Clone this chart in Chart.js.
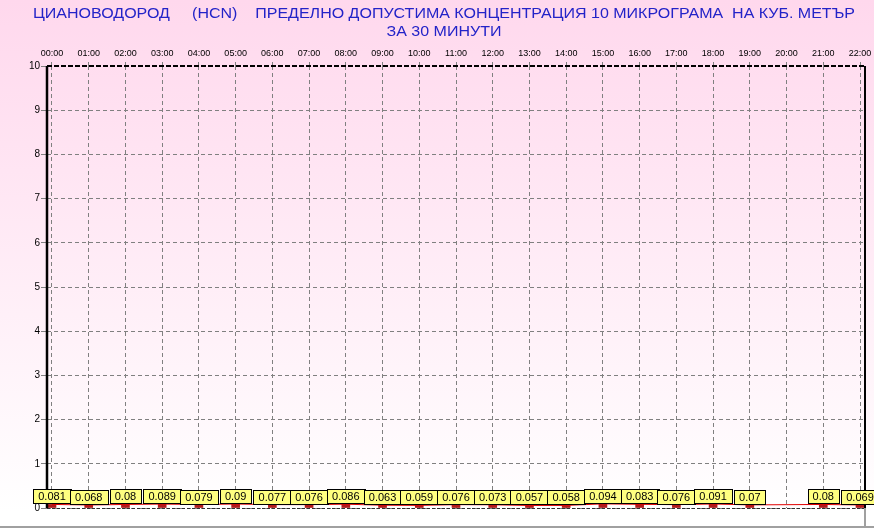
<!DOCTYPE html>
<html><head><meta charset="utf-8">
<script src="https://cdn.jsdelivr.net/npm/chart.js@4/dist/chart.umd.min.js"></script>
<style>html,body{margin:0;padding:0;background:#fff;}#wrap{width:874px;height:529px;}</style>
</head><body><div id="wrap"><canvas id="c" width="874" height="529"></canvas></div>
<script>
const titleLines = ['ЦИАНОВОДОРОД     (HCN)    ПРЕДЕЛНО ДОПУСТИМА КОНЦЕНТРАЦИЯ 10 МИКРОГРАМА  НА КУБ. МЕТЪР', 'ЗА 30 МИНУТИ'];
const hours = ['00:00','01:00','02:00','03:00','04:00','05:00','06:00','07:00','08:00','09:00','10:00','11:00','12:00','13:00','14:00','15:00','16:00','17:00','18:00','19:00','20:00','21:00','22:00'];
const values = [0.081,0.068,0.08,0.089,0.079,0.09,0.077,0.076,0.086,0.063,0.059,0.076,0.073,0.057,0.058,0.094,0.083,0.076,0.091,0.07,null,0.08,0.069];
const yTicks = [0,1,2,3,4,5,6,7,8,9,10];

const points = hours.map((h,i)=>({x:i, y:values[i]}));

const bgPlugin = {
  id:'bg',
  beforeDraw(chart){
    const ctx = chart.ctx;
    const g = ctx.createLinearGradient(0,0,0,512);
    g.addColorStop(0,'#ffd8ed');
    g.addColorStop(1,'#ffffff');
    ctx.save();
    ctx.fillStyle = g;
    ctx.fillRect(0,0,chart.width,chart.height);
    ctx.restore();
  }
};

const framePlugin = {
  id:'frame',
  afterDatasetsDraw(chart){
    const {ctx, chartArea:a} = chart;
    ctx.save();
    ctx.strokeStyle = '#303030'; ctx.lineWidth = 1; ctx.setLineDash([3,2]);
    ctx.beginPath(); ctx.moveTo(a.left, a.bottom+0.5); ctx.lineTo(a.right, a.bottom+0.5); ctx.stroke();
    ctx.strokeStyle = '#000'; ctx.lineWidth = 2; ctx.setLineDash([5,2]);
    ctx.beginPath(); ctx.moveTo(a.left, a.top); ctx.lineTo(a.right, a.top); ctx.stroke();
    ctx.setLineDash([]);
    ctx.lineWidth = 2.5;
    ctx.beginPath(); ctx.moveTo(a.left, a.top); ctx.lineTo(a.left, a.bottom); ctx.stroke();
    ctx.lineWidth = 2;
    ctx.beginPath(); ctx.moveTo(a.right, a.top); ctx.lineTo(a.right, a.bottom); ctx.stroke();
    ctx.strokeStyle = '#a0a0a0'; ctx.lineWidth = 2;
    ctx.beginPath(); ctx.moveTo(a.right, a.bottom); ctx.lineTo(a.right, 527); ctx.moveTo(0,527); ctx.lineTo(chart.width,527); ctx.stroke();
    ctx.restore();
  }
};

const labelPlugin = {
  id:'vlabels',
  afterDraw(chart){
    const {ctx} = chart;
    const xs = chart.scales.x, ys = chart.scales.y;
    ctx.save();
    ctx.font = '11px Arial, "Liberation Sans", sans-serif';
    ctx.textAlign = 'center'; ctx.textBaseline = 'middle';
    values.forEach((v,i)=>{
      if (v === null) return;
      const t = String(v);
      const px = xs.getPixelForValue(i);
      const py = ys.getPixelForValue(v);
      const w = Math.round(ctx.measureText(t).width) + 10;
      const h = 14;
      const left = Math.round(px - w/2) + 0.5;
      const top = Math.round(py - 15) + 0.5;
      ctx.fillStyle = '#ffff80';
      ctx.fillRect(left, top, w, h);
      ctx.strokeStyle = '#000'; ctx.lineWidth = 1;
      ctx.strokeRect(left, top, w, h);
      ctx.fillStyle = '#000';
      ctx.fillText(t, px, top + h/2 + 0.5);
    });
    ctx.restore();
  }
};

const titlePlugin = {
  id:'ttl',
  afterDraw(chart){
    const ctx = chart.ctx;
    ctx.save();
    ctx.fillStyle = '#2323c8';
    ctx.font = '15px Arial, "Liberation Sans", sans-serif';
    ctx.textAlign = 'center'; ctx.textBaseline = 'middle';
    const w0 = ctx.measureText(titleLines[0]).width;
    const sx = 822 / w0;
    ctx.translate(444, 0);
    ctx.scale(sx, 1);
    ctx.fillText(titleLines[0], 0, 14);
    ctx.fillText(titleLines[1], 0, 32);
    ctx.restore();
  }
};

new Chart(document.getElementById('c'), {
  type:'bar',
  data:{
    datasets:[
      {type:'line', data:points, borderColor:'#e00000', borderWidth:1, pointRadius:0, spanGaps:true, order:1},
      {type:'bar', data:points, backgroundColor:'#b01c1c', barThickness:8, order:2}
    ]
  },
  options:{
    responsive:false, animation:false, devicePixelRatio:1,
    layout:{padding:{left:0, top:0, right:9, bottom:21}},
    plugins:{legend:{display:false}, title:{display:false}, tooltip:{enabled:false}},
    scales:{
      x:{
        type:'linear', position:'top', min:-0.136, max:22.136, offset:false,
        afterBuildTicks(s){ s.ticks = hours.map((h,i)=>({value:i})); },
        afterFit(s){ s.height = 66; s.paddingLeft = 0; s.paddingRight = 0; },
        ticks:{callback:(v)=>hours[v], autoSkip:false, maxRotation:0, color:'#000', font:{family:'Arial, "Liberation Sans", sans-serif', size:9}, padding:3},
        grid:{offset:false, color:'#808080', lineWidth:1, tickLength:4, tickColor:'#808080'},
        border:{display:false, dash:[4,3]}
      },
      y:{
        min:0, max:10,
        afterBuildTicks(s){ s.ticks = yTicks.map(v=>({value:v})); },
        afterFit(s){ s.width = 47; },
        ticks:{color:'#000', font:{family:'Arial, "Liberation Sans", sans-serif', size:10}, padding:1},
        grid:{color:'#808080', lineWidth:1, tickLength:6, tickColor:'#808080'},
        border:{display:false, dash:[4,3]}
      }
    }
  },
  plugins:[bgPlugin, framePlugin, labelPlugin, titlePlugin]
});
</script></body></html>
